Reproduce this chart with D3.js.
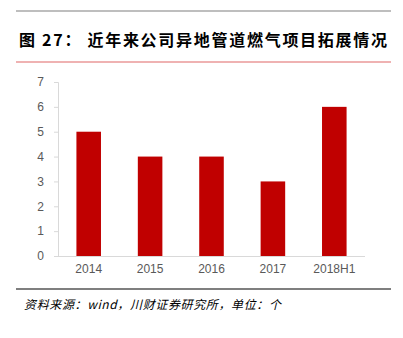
<!DOCTYPE html>
<html>
<head>
<meta charset="utf-8">
<script src="https://cdn.jsdelivr.net/npm/d3@7"></script>
<style>
  html, body { margin: 0; padding: 0; background: #fff; }
  svg { display: block; }
</style>
</head>
<body>
<svg id="chart" width="403" height="338"></svg>
<script>
// Non-local piped-gas projects added each year
const categories = ["2014", "2015", "2016", "2017", "2018H1"];
const projects = [5, 4, 4, 3, 6];
const yTicks = [0, 1, 2, 3, 4, 5, 6, 7];
const titleText = "图 27：  近年来公司异地管道燃气项目拓展情况";
const sourceText = "资料来源：wind，川财证券研究所，单位：个";

const svg = d3.select("#chart");
const W = 403;

// Header rules and title
svg.append("line").attr("x1", 16).attr("x2", 391).attr("y1", 11).attr("y2", 11)
  .attr("stroke", "#7f7f7f").attr("stroke-width", 1.2);
svg.append("text").attr("x", 19).attr("y", 46)
  .attr("font-family", "'Noto Sans CJK SC', sans-serif")
  .attr("font-weight", "bold").attr("font-size", 16)
  .attr("fill", "#000")
  .attr("textLength", 368).attr("lengthAdjust", "spacing")
  .text(titleText);
svg.append("line").attr("x1", 16).attr("x2", 391).attr("y1", 62).attr("y2", 62)
  .attr("stroke", "#e06666").attr("stroke-width", 1.2);

// Plot area
const x = d3.scaleBand().domain(categories).range([58, 365]).paddingInner(0.6).paddingOuter(0.3);
const y = d3.scaleLinear().domain([0, 7]).range([256, 82]);

const yAxis = svg.append("g").attr("transform", "translate(58,0)")
  .call(d3.axisLeft(y).tickValues(yTicks).tickSize(4).tickPadding(10).tickFormat(d3.format("d")));
yAxis.select(".domain").attr("stroke", "#d9d9d9").attr("d", "M-4,82.5H0.5V256.5H-4");
yAxis.selectAll(".tick line").attr("stroke", "#d9d9d9");
yAxis.selectAll(".tick text").attr("fill", "#595959")
  .attr("font-family", "'Liberation Sans', Arial, sans-serif").attr("font-size", 12);

const xAxis = svg.append("g").attr("transform", "translate(0,256)")
  .call(d3.axisBottom(x).tickSize(0).tickPadding(8));
xAxis.select(".domain").attr("stroke", "#d9d9d9").attr("d", "M54,0.5H365");
xAxis.selectAll(".tick text").attr("fill", "#595959")
  .attr("font-family", "'Liberation Sans', Arial, sans-serif").attr("font-size", 12);

svg.append("g").selectAll("rect").data(categories).join("rect")
  .attr("x", d => x(d))
  .attr("width", x.bandwidth())
  .attr("y", (d, i) => y(projects[i]))
  .attr("height", (d, i) => y(0) - y(projects[i]))
  .attr("fill", "#c00000");

// Footer rule and source note
svg.append("line").attr("x1", 16).attr("x2", 391).attr("y1", 289).attr("y2", 289)
  .attr("stroke", "#000").attr("stroke-width", 1.2);
svg.append("text").attr("x", 24).attr("y", 309)
  .attr("font-family", "'Noto Sans CJK SC', sans-serif")
  .attr("font-style", "italic").attr("font-size", 12)
  .attr("fill", "#000")
  .attr("textLength", 257).attr("lengthAdjust", "spacing")
  .text(sourceText);
</script>
</body>
</html>
